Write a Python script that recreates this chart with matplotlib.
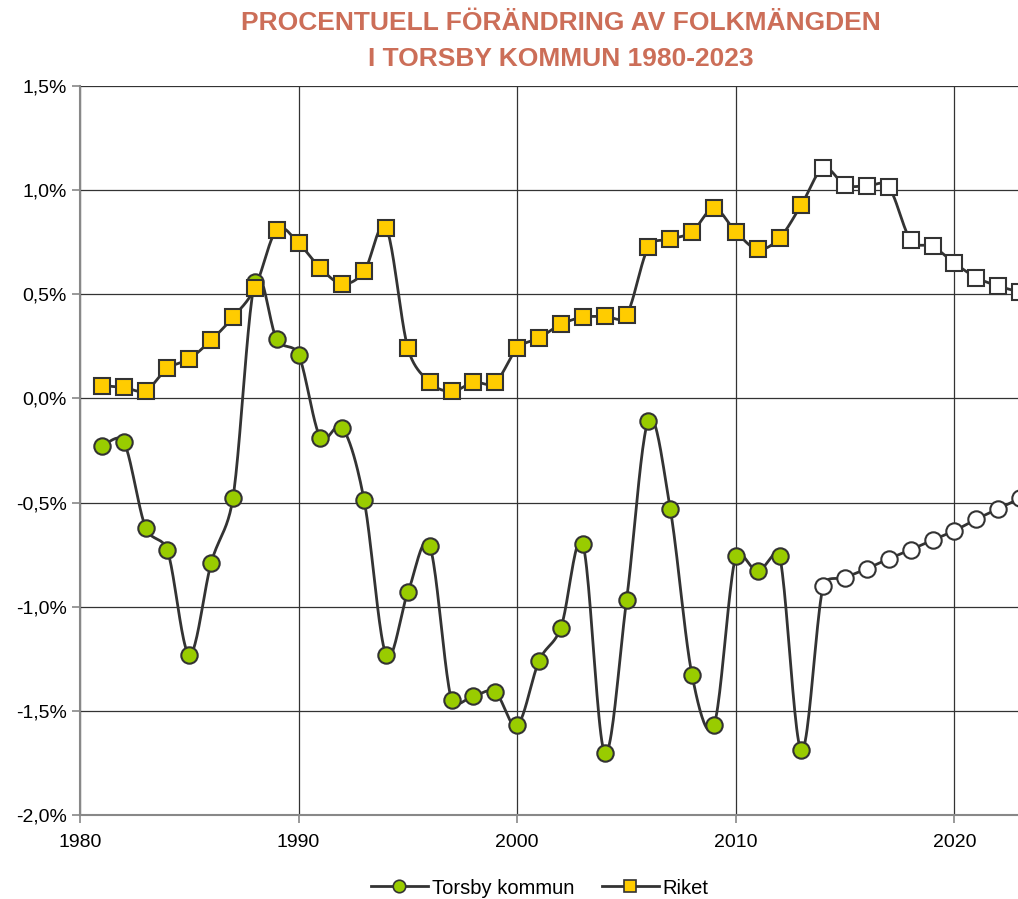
import numpy as np
import matplotlib.pyplot as plt
from matplotlib.lines import Line2D

# data (percent change per year)
years = list(range(1981, 2024))
torsby = [-0.23, -0.207, -0.62, -0.73, -1.23, -0.79, -0.476, 0.56, 0.284, 0.21,
          -0.19, -0.14, -0.49, -1.23, -0.93, -0.71, -1.45, -1.43, -1.41, -1.57,
          -1.26, -1.10, -0.70, -1.70, -0.97, -0.106, -0.53, -1.33, -1.57, -0.755,
          -0.83, -0.755, -1.69, -0.90, -0.86, -0.817, -0.77, -0.726, -0.68, -0.635,
          -0.58, -0.53, -0.48]
riket = [0.062, 0.053, 0.038, 0.144, 0.19, 0.28, 0.39, 0.53, 0.81, 0.745,
         0.625, 0.55, 0.61, 0.82, 0.24, 0.077, 0.034, 0.077, 0.077, 0.24,
         0.29, 0.356, 0.39, 0.394, 0.40, 0.726, 0.764, 0.80, 0.913, 0.80,
         0.716, 0.77, 0.93, 1.106, 1.024, 1.02, 1.014, 0.76, 0.73, 0.65,
         0.58, 0.54, 0.51]
last_actual = 2013  # later years drawn with white markers
yticks = [-2.0, -1.5, -1.0, -0.5, 0.0, 0.5, 1.0, 1.5]
xticks = [1980, 1990, 2000, 2010, 2020]

plt.rcParams['font.family'] = ['Liberation Sans', 'DejaVu Sans']


# smoothed line like a spreadsheet's: bezier with control arms limited to half a segment
def smooth(x, y, sx=21.87, sy=208.0, n=24):
    # work in pixel-like units so the arm limits behave like on screen
    P = np.column_stack([np.asarray(x, float) * sx, np.asarray(y, float) * sy])
    P = np.vstack([P[0], P, P[-1]])
    t = np.linspace(0, 1, n)[:, None]
    out = []
    for i in range(1, len(P) - 2):
        p0, p1, p2, p3 = P[i - 1], P[i], P[i + 1], P[i + 2]
        d12 = np.linalg.norm(p2 - p1)
        t1 = p2 - p0
        t2 = p3 - p1
        f1 = 1 / 6 if np.linalg.norm(t1) / 6 < d12 / 2 else d12 / (2 * max(np.linalg.norm(t1), 1e-9))
        f2 = 1 / 6 if np.linalg.norm(t2) / 6 < d12 / 2 else d12 / (2 * max(np.linalg.norm(t2), 1e-9))
        c1 = p1 + t1 * f1
        c2 = p2 - t2 * f2
        b = (1 - t) ** 3 * p1 + 3 * (1 - t) ** 2 * t * c1 + 3 * (1 - t) * t ** 2 * c2 + t ** 3 * p2
        out.append(b)
    out = np.vstack(out)
    return out[:, 0] / sx, out[:, 1] / sy


fig = plt.figure(figsize=(10.18, 8.99), dpi=100)
ax = fig.add_axes([80 / 1018, 1 - 815 / 899, 940 / 1018, 729 / 899])

line_c = '#333333'
yrs = np.array(years)
actual = yrs <= last_actual

for vals, mk, fc, ms in [(torsby, 'o', '#99CC00', 11.8), (riket, 's', '#FFCC00', 11.8)]:
    lx, ly = smooth(years, vals)
    ax.plot(lx, ly, color=line_c, lw=2, zorder=3)
    v = np.array(vals)
    ax.plot(yrs[actual], v[actual], ls='none', marker=mk, ms=ms, mfc=fc,
            mec=line_c, mew=1.5, zorder=4)
    ax.plot(yrs[~actual], v[~actual], ls='none', marker=mk, ms=ms, mfc='white',
            mec=line_c, mew=1.5, zorder=4)

ax.set_xlim(1980, 2023)
ax.set_ylim(-2.0, 1.5)
ax.set_xticks(xticks)
ax.set_yticks(yticks)
ax.set_yticklabels([('%.1f%%' % v).replace('.', ',') for v in yticks])
ax.grid(True, color='#333333', lw=0.9)
ax.set_axisbelow(True)
for s in ['top', 'right']:
    ax.spines[s].set_visible(False)
for s in ['left', 'bottom']:
    ax.spines[s].set_color('#888888')
    ax.spines[s].set_linewidth(1.5)
ax.tick_params(axis='both', colors='#888888', length=6, width=1.2,
               labelcolor='black', labelsize=14)
ax.tick_params(axis='x', pad=8)

title_c = '#CC6E58'
fig.text(561 / 1018, 1 - 23 / 899, 'PROCENTUELL FÖRÄNDRING AV FOLKMÄNGDEN',
         ha='center', va='center', fontsize=19, fontweight='bold', color=title_c)
fig.text(561 / 1018, 1 - 59 / 899, 'I TORSBY KOMMUN 1980-2023',
         ha='center', va='center', fontsize=19, fontweight='bold', color=title_c)

handles = [
    Line2D([], [], color=line_c, lw=2, marker='o', ms=9, mfc='#99CC00', mec=line_c, mew=1.2),
    Line2D([], [], color=line_c, lw=2, marker='s', ms=9, mfc='#FFCC00', mec=line_c, mew=1.2),
]
fig.legend(handles, ['Torsby kommun', 'Riket'], loc='center', ncol=2,
           bbox_to_anchor=(540 / 1018, 1 - 888 / 899), frameon=False,
           fontsize=14.5, handlelength=2.8, handletextpad=0.2, columnspacing=1.4)

fig.savefig('out.png', dpi=100)
